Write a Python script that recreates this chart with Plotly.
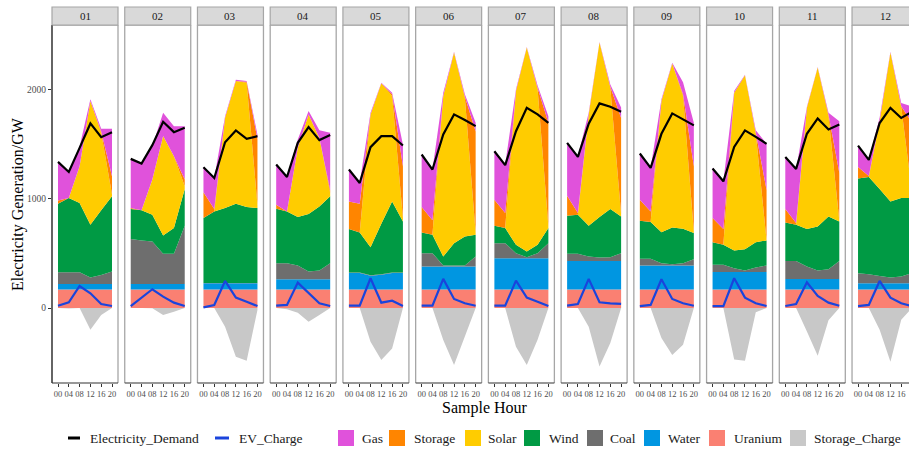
import plotly.graph_objects as go

# ---------------- data ----------------
MONTHS = ["01", "02", "03", "04", "05", "06", "07", "08", "09", "10", "11", "12"]
HOURS = [0, 4, 8, 12, 16, 20]
HOUR_LABELS = ["00", "04", "08", "12", "16", "20"]
Y_TICKS = [0, 1000, 2000]

URANIUM = [
    [170, 170, 170, 170, 170, 170], [170, 170, 170, 170, 170, 170], [170, 170, 170, 170, 170, 170],
    [170, 170, 170, 170, 170, 170], [170, 170, 170, 170, 170, 170], [170, 170, 170, 170, 170, 170],
    [170, 170, 170, 170, 170, 170], [170, 170, 170, 170, 170, 170], [170, 170, 170, 170, 170, 170],
    [170, 170, 170, 170, 170, 170], [170, 170, 170, 170, 170, 170], [170, 170, 170, 170, 170, 170],
]
WATER = [
    [51, 51, 51, 51, 51, 51], [51, 51, 51, 51, 51, 51], [57, 57, 57, 57, 57, 57],
    [94, 94, 94, 94, 94, 94], [150, 150, 125, 135, 150, 150], [210, 210, 210, 210, 210, 210],
    [287, 287, 287, 287, 287, 287], [262, 262, 262, 262, 262, 262], [220, 220, 220, 220, 220, 220],
    [161, 161, 161, 161, 161, 161], [97, 97, 97, 97, 97, 97], [57, 57, 57, 57, 57, 57],
]
COAL = [
    [107, 107, 107, 58, 82, 113], [411, 399, 389, 276, 276, 533], [3, 3, 3, 3, 3, 3],
    [147, 147, 126, 70, 79, 147], [5, 5, 5, 5, 5, 5], [123, 123, 10, 10, 10, 92],
    [138, 138, 46, 9, 46, 138], [65, 65, 40, 31, 34, 71], [61, 61, 21, 12, 21, 58],
    [65, 65, 34, 12, 40, 59], [165, 165, 113, 76, 89, 165], [92, 83, 67, 52, 63, 92],
]
WIND = [
    [629, 681, 635, 485, 593, 690], [276, 276, 246, 169, 236, 338], [595, 656, 687, 727, 696, 687],
    [500, 475, 444, 528, 589, 613], [399, 368, 258, 463, 653, 469], [190, 169, 82, 205, 266, 200],
    [159, 138, 77, 52, 77, 138], [350, 359, 282, 371, 442, 337], [349, 337, 285, 337, 316, 239],
    [208, 184, 163, 197, 233, 230], [353, 332, 344, 405, 484, 362], [868, 892, 798, 699, 719, 690],
]
SOLAR = [
    [0, 0, 337, 1134, 711, 16], [0, 0, 322, 911, 660, 24], [0, 0, 828, 1126, 1141, 30],
    [0, 0, 635, 914, 628, 31], [0, 0, 1218, 1288, 966, 31], [0, 0, 1472, 1748, 1273, 18],
    [0, 0, 1410, 1871, 1429, 17], [0, 0, 1022, 1601, 1113, 20], [0, 0, 1202, 1503, 1217, 13],
    [0, 0, 1447, 1595, 996, 0], [0, 0, 1113, 1457, 920, 6], [0, 0, 622, 1365, 835, 51],
]
STORAGE = [
    [30, 0, 0, 0, 13, 168], [9, 0, 0, 0, 0, 62], [236, 22, 0, 0, 8, 600],
    [37, 0, 0, 0, 0, 25], [254, 264, 0, 0, 16, 475], [233, 132, 0, 0, 11, 930],
    [240, 138, 0, 0, 11, 950], [183, 15, 0, 0, 9, 883], [194, 98, 0, 0, 16, 600],
    [221, 144, 0, 0, 10, 463], [123, 15, 0, 0, 16, 440], [107, 8, 0, 0, 6, 640],
]
GAS = [
    [353, 245, 180, 16, 24, 436], [451, 429, 306, 214, 275, 490], [233, 285, 15, 10, 8, 43],
    [368, 322, 77, 30, 70, 527], [292, 190, 15, 6, 15, 200], [482, 466, 31, 7, 20, 80],
    [444, 445, 16, 6, 20, 60], [485, 521, 15, 5, 20, 97], [423, 399, 16, 8, 110, 399],
    [460, 438, 15, 5, 20, 423], [478, 491, 8, 5, 14, 474], [190, 152, 31, 7, 30, 150],
]
STORAGE_CHARGE = [
    [0, -5, 0, -200, -65, 0], [0, 0, -3, -64, -34, 0], [0, 0, -172, -448, -485, -18],
    [0, -12, -43, -126, -64, 0], [0, 0, -310, -478, -371, 0], [0, 0, -294, -524, -261, 0],
    [0, 0, -356, -524, -291, 0], [0, 0, -172, -537, -322, 0], [0, 0, -276, -432, -337, 0],
    [0, 0, -472, -485, -40, 0], [0, 0, -215, -439, -113, 0], [0, 0, -200, -494, -107, 0],
]
DEMAND = [
    [1340, 1248, 1469, 1693, 1567, 1613], [1368, 1325, 1494, 1708, 1613, 1653],
    [1291, 1193, 1521, 1629, 1552, 1576], [1316, 1202, 1515, 1659, 1540, 1586],
    [1270, 1147, 1475, 1576, 1576, 1491], [1408, 1270, 1592, 1776, 1724, 1668],
    [1438, 1310, 1622, 1837, 1776, 1699], [1515, 1386, 1690, 1877, 1846, 1800],
    [1417, 1285, 1598, 1785, 1730, 1675], [1279, 1162, 1478, 1629, 1570, 1506],
    [1386, 1276, 1598, 1739, 1638, 1684], [1490, 1358, 1697, 1835, 1743, 1800],
]
EV_CHARGE = [
    [21, 52, 202, 135, 37, 18], [18, 95, 172, 104, 49, 18], [6, 28, 248, 95, 58, 18],
    [21, 28, 233, 135, 43, 18], [21, 21, 273, 49, 67, 18], [21, 21, 267, 83, 43, 21],
    [21, 21, 251, 95, 58, 18], [21, 37, 267, 52, 43, 37], [18, 28, 264, 83, 43, 21],
    [18, 18, 273, 95, 43, 18], [18, 37, 236, 110, 49, 21], [18, 28, 248, 95, 43, 18],
]

STACK = [
    ("Uranium", URANIUM, "#FA8072"),
    ("Water", WATER, "#0096E1"),
    ("Coal", COAL, "#6E6E6E"),
    ("Wind", WIND, "#009A44"),
    ("Solar", SOLAR, "#FFCC00"),
    ("Storage", STORAGE, "#FF8500"),
    ("Gas", GAS, "#E052DB"),
]
SC_COLOR = "#C8C8C8"
DEMAND_COLOR = "#000000"
EV_COLOR = "#1A44DC"

# ---------------- layout geometry ----------------
W, H = 909, 449
FONT = "Liberation Serif, Times New Roman, DejaVu Serif, serif"


def px(x):
    return x / W


def py(y):
    return 1 - y / H


PANEL_LEFT0 = 52
PANEL_STEP = 72.73
PANEL_W = 66
PANEL_TOP = 25
PANEL_BOT = 383
STRIP_TOP = 7
XR = [-2.22, 22.22]
YR = [-688, 2596]

fig = go.Figure()
layout = {}
shapes = []
annotations = []

for i, m in enumerate(MONTHS):
    left = PANEL_LEFT0 + PANEL_STEP * i
    right = left + PANEL_W
    dom_r = min(right, W)
    xr = [XR[0], XR[0] + (XR[1] - XR[0]) * (dom_r - left) / PANEL_W]
    sfx = "" if i == 0 else str(i + 1)
    xref, yref = "x" + sfx, "y" + sfx

    layout["xaxis" + sfx] = dict(
        domain=[px(left), px(dom_r)], range=xr, anchor=yref,
        tickvals=HOURS, ticktext=HOUR_LABELS, ticks="outside", ticklen=3,
        tickcolor="#333333", tickwidth=1, tickangle=0,
        tickfont=dict(family=FONT, size=8.5, color="#4d4d4d"),
        showline=False, showgrid=False, zeroline=False, fixedrange=True,
    )
    layout["yaxis" + sfx] = dict(
        domain=[py(PANEL_BOT), py(PANEL_TOP)], range=YR, anchor=xref,
        showgrid=False, zeroline=False, showline=False, fixedrange=True,
        showticklabels=(i == 0), tickvals=Y_TICKS,
        ticks="outside" if i == 0 else "", ticklen=3, tickcolor="#333333",
        tickfont=dict(family=FONT, size=9.5, color="#4d4d4d"),
    )

    # negative storage charge area
    fig.add_trace(go.Scatter(
        x=HOURS, y=STORAGE_CHARGE[i], fill="tozeroy", mode="none",
        fillcolor=SC_COLOR, xaxis=xref, yaxis=yref, showlegend=False, hoverinfo="skip",
    ))
    # stacked generation
    for name, arr, col in STACK:
        fig.add_trace(go.Scatter(
            x=HOURS, y=arr[i], stackgroup="m" + m, mode="none",
            fillcolor=col, name=name, xaxis=xref, yaxis=yref,
            showlegend=False, hoverinfo="skip",
        ))
    fig.add_trace(go.Scatter(
        x=HOURS, y=DEMAND[i], mode="lines", line=dict(color=DEMAND_COLOR, width=2.2),
        xaxis=xref, yaxis=yref, showlegend=False, hoverinfo="skip",
    ))
    fig.add_trace(go.Scatter(
        x=HOURS, y=EV_CHARGE[i], mode="lines", line=dict(color=EV_COLOR, width=2.2),
        xaxis=xref, yaxis=yref, showlegend=False, hoverinfo="skip",
    ))

    # panel borders
    grey = "#A6A6A6"
    x0, x1 = px(left), px(right)
    yt, yb = py(PANEL_TOP), py(PANEL_BOT)
    shapes.append(dict(type="line", xref="paper", yref="paper", x0=x0, x1=x1, y0=yt, y1=yt,
                       line=dict(color=grey, width=1.3), layer="above"))
    shapes.append(dict(type="line", xref="paper", yref="paper", x0=x1, x1=x1, y0=yb, y1=yt,
                       line=dict(color=grey, width=1.3), layer="above"))
    shapes.append(dict(type="line", xref="paper", yref="paper", x0=x0, x1=x0, y0=yb, y1=yt,
                       line=dict(color="#111111" if i == 0 else grey, width=1.3), layer="above"))
    shapes.append(dict(type="line", xref="paper", yref="paper", x0=x0, x1=x1, y0=yb, y1=yb,
                       line=dict(color="#333333", width=1.2), layer="above"))
    # strip
    shapes.append(dict(type="rect", xref="paper", yref="paper", x0=x0, x1=x1,
                       y0=py(PANEL_TOP), y1=py(STRIP_TOP),
                       fillcolor="#D9D9D9", line=dict(color=grey, width=1.2), layer="above"))
    annotations.append(dict(x=px(left + PANEL_W / 2), y=py((STRIP_TOP + PANEL_TOP) / 2),
                            xref="paper", yref="paper", text=m, showarrow=False,
                            xanchor="center", yanchor="middle",
                            font=dict(family=FONT, size=11, color="#1a1a1a")))

# axis titles
annotations.append(dict(x=px(18), y=py((PANEL_TOP + PANEL_BOT) / 2), xref="paper", yref="paper",
                        text="Electricity Generation/GW", textangle=-90, showarrow=False,
                        xanchor="center", yanchor="middle",
                        font=dict(family=FONT, size=16, color="#000000")))
annotations.append(dict(x=px(485), y=py(408), xref="paper", yref="paper",
                        text="Sample Hour", showarrow=False, xanchor="center", yanchor="middle",
                        font=dict(family=FONT, size=16, color="#000000")))

# legend (manual)
LEG_Y = 438
LEG_FONT = dict(family=FONT, size=13.5, color="#1a1a1a")
leg_lines = [("Electricity_Demand", DEMAND_COLOR, 68, 80, 88), ("EV_Charge", EV_COLOR, 215, 229, 237)]
for label, col, a, b, tx in leg_lines:
    shapes.append(dict(type="line", xref="paper", yref="paper", x0=px(a), x1=px(b),
                       y0=py(LEG_Y), y1=py(LEG_Y), line=dict(color=col, width=3)))
    annotations.append(dict(x=px(tx), y=py(LEG_Y), xref="paper", yref="paper", text=label,
                            showarrow=False, xanchor="left", yanchor="middle", font=LEG_FONT))
leg_boxes = [("Gas", "#E052DB", 338, 360), ("Storage", "#FF8500", 389, 412),
             ("Solar", "#FFCC00", 465, 486), ("Wind", "#009A44", 524, 547),
             ("Coal", "#6E6E6E", 587, 608), ("Water", "#0096E1", 644, 666),
             ("Uranium", "#FA8072", 709, 732), ("Storage_Charge", SC_COLOR, 790, 812)]
for label, col, bx, tx in leg_boxes:
    shapes.append(dict(type="rect", xref="paper", yref="paper", x0=px(bx), x1=px(bx + 16),
                       y0=py(LEG_Y + 8), y1=py(LEG_Y - 8), fillcolor=col, line=dict(width=0)))
    annotations.append(dict(x=px(tx), y=py(LEG_Y), xref="paper", yref="paper", text=label,
                            showarrow=False, xanchor="left", yanchor="middle", font=LEG_FONT))

fig.update_layout(
    width=W, height=H, margin=dict(l=0, r=0, t=0, b=0),
    paper_bgcolor="white", plot_bgcolor="white",
    shapes=shapes, annotations=annotations, showlegend=False,
    font=dict(family=FONT),
    **layout,
)
fig.write_html("out.html")
